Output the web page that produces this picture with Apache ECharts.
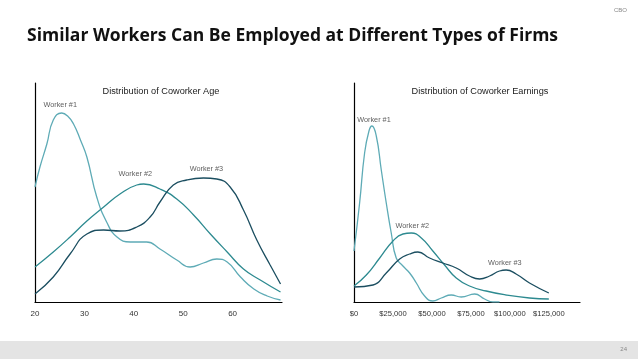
<!DOCTYPE html>
<html><head><meta charset="utf-8">
<script src="https://cdn.jsdelivr.net/npm/echarts@6/dist/echarts.min.js"></script>
<style>html,body{margin:0;padding:0;background:#fff}#c{width:638px;height:359px}</style>
</head><body><div id="c"></div>
<script>
// Age distribution (x = age, y = relative density)
const ageW1 = [[20,115],[21,135],[22.4,158],[23.7,182],[25.4,189],[26.6,186],[27.8,178],[29.2,162],[30.5,145],[32.5,105],[34.5,80],[36.6,65],[39.3,60],[42.6,60],[45.3,53],[48.7,42],[51.4,35],[54.1,39],[56.8,43],[58.9,40],[61.6,25],[64.3,13],[67,6],[69.7,2]];
const ageW2 = [[20,35],[23.7,50],[27.1,65],[30.5,81],[33.9,95],[37.2,108],[40.6,117],[42,118],[45.3,113],[48.7,103],[52.1,87],[55.5,68],[58.9,50],[62.2,33],[65.6,22],[69.7,10]];
const ageW3 = [[20,8],[23.7,25],[27.1,48],[30.5,68],[33.9,72],[37.2,71],[40.6,75],[43.3,85],[45.3,100],[48,117],[50.7,122],[54.1,124],[56.8,123],[59.5,115],[62.2,92],[64.9,62],[67.6,37],[69.7,18]];
// Earnings distribution (x = dollars, y = relative density)
const earnW1 = [[0,51],[3600,99],[6800,149],[9600,171],[11500,176],[14300,166],[17500,132],[20700,99],[23900,69],[27100,44],[31400,36],[35700,29],[40000,19],[45300,6],[50600,1],[56000,4],[62400,7],[68800,5],[77400,8],[83800,3],[89100,0],[93400,0]];
const earnW2 = [[0,16],[7900,27],[16500,44],[25000,61],[31400,68],[36800,69],[43200,64],[50600,51],[58100,37],[65600,24],[74100,16],[84800,11],[97600,7],[112600,4],[125000,3]];
const earnW3 = [[0,15],[12200,17],[20700,29],[29300,43],[35700,48],[41000,50],[48500,44],[57000,39],[65600,34],[74100,26],[80600,23],[87000,26],[93400,31],[97600,32],[104000,28],[112600,19],[125000,9]];
// Label anchors
const ageLabels = [[25.1,197,'Worker #1'],[40.3,128,'Worker #2'],[54.7,133,'Worker #3']];
const earnLabels = [[12800,182,'Worker #1'],[37400,76,'Worker #2'],[96800,39,'Worker #3']];
const ageTicks = [20,30,40,50,60];
const earnTicks = [0,25000,50000,75000,100000,125000];

const C1 = '#5eabb6', C2 = '#2d8a90', C3 = '#1b4e60';
const FONT = 'Liberation Sans';

function line(data, color, xi){
  return {type:'line', data, xAxisIndex:xi, yAxisIndex:xi, smooth:0.5, symbol:'none',
    lineStyle:{color, width:1.3}, silent:true, z:3};
}
function labels(arr, xi){
  return {type:'scatter', xAxisIndex:xi, yAxisIndex:xi, symbolSize:0, silent:true,
    data: arr.map(a=>({value:[a[0],a[1]], name:a[2]})),
    label:{show:true, position:'inside', formatter:p=>p.name, fontFamily:FONT, fontSize:7.3, color:'#333'}, z:5};
}

const chart = echarts.init(document.getElementById('c'), null, {renderer:'canvas'});
chart.setOption({
  animation:false,
  backgroundColor:'#fff',
  title:[
    {text:'Similar Workers Can Be Employed at Different Types of Firms', left:22, top:22,
     textStyle:{fontFamily:'Open Sans', fontWeight:'bold', fontSize:17.5, color:'#111'}},
    {text:'Distribution of Coworker Age', left:156, top:82, textAlign:'center',
     textStyle:{fontFamily:FONT, fontWeight:'normal', fontSize:9.2, color:'#222'}},
    {text:'Distribution of Coworker Earnings', left:475, top:82, textAlign:'center',
     textStyle:{fontFamily:FONT, fontWeight:'normal', fontSize:9.2, color:'#222'}},
    {text:'CBO', right:6, top:2, textStyle:{fontFamily:FONT, fontWeight:'normal', fontSize:6, color:'#888'}},
    {text:'24', right:6, top:341, textStyle:{fontFamily:FONT, fontWeight:'normal', fontSize:6, color:'#888'}}
  ],
  graphic:[{type:'rect', shape:{x:0,y:341,width:638,height:18}, style:{fill:'#e4e4e4'}, z:-10, silent:true}],
  grid:[
    {left:35, top:83, width:247, height:219},
    {left:354, top:83, width:226, height:219}
  ],
  xAxis:[
    {type:'value', gridIndex:0, min:20, max:70, interval:10,
     axisLine:{lineStyle:{color:'#000', width:1.2}}, axisTick:{show:false}, splitLine:{show:false},
     axisLabel:{fontFamily:FONT, fontSize:8, color:'#333', margin:8,
       formatter:v=>ageTicks.includes(v)?String(v):''}},
    {type:'value', gridIndex:1, min:0, max:145000, interval:25000,
     axisLine:{lineStyle:{color:'#000', width:1.2}}, axisTick:{show:false}, splitLine:{show:false},
     axisLabel:{fontFamily:FONT, fontSize:7.6, color:'#333', margin:8,
       formatter:v=>earnTicks.includes(v)?'$'+v.toLocaleString('en-US'):''}}
  ],
  yAxis:[
    {type:'value', gridIndex:0, min:0, max:219, axisLine:{show:true, lineStyle:{color:'#000', width:1.2}},
     axisTick:{show:false}, axisLabel:{show:false}, splitLine:{show:false}},
    {type:'value', gridIndex:1, min:0, max:219, axisLine:{show:true, lineStyle:{color:'#000', width:1.2}},
     axisTick:{show:false}, axisLabel:{show:false}, splitLine:{show:false}}
  ],
  series:[
    line(ageW1, C1, 0), line(ageW2, C2, 0), line(ageW3, C3, 0),
    line(earnW1, C1, 1), line(earnW2, C2, 1), line(earnW3, C3, 1),
    labels(ageLabels, 0), labels(earnLabels, 1)
  ]
});
</script></body></html>
